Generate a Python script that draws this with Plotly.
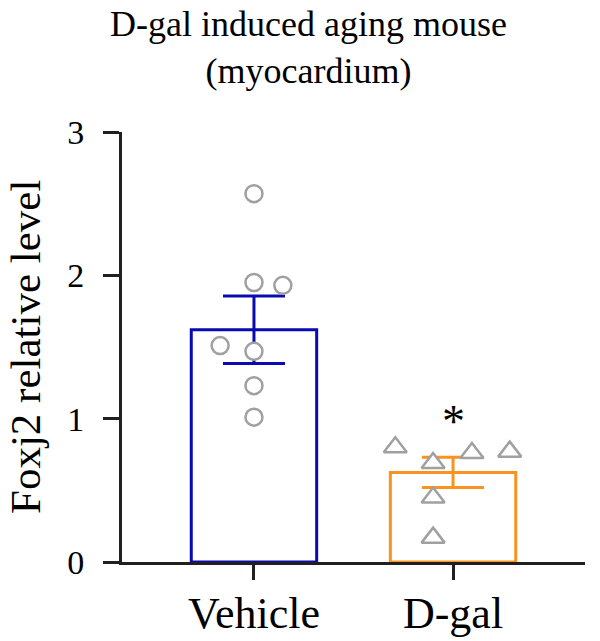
import plotly.graph_objects as go

# ---- data ----
groups = ["Vehicle", "D-gal"]
group_pos = [0, 1]
bar_means = [1.62, 0.625]
bar_sem = [0.235, 0.105]

vehicle_vals = [2.57, 1.95, 1.93, 1.51, 1.47, 1.23, 1.01]
vehicle_jitter = [0.0, 0.0, 0.145, -0.17, 0.0, 0.0, 0.0]
dgal_vals = [0.80, 0.69, 0.76, 0.77, 0.45, 0.17]
dgal_jitter = [-0.29, -0.10, 0.095, 0.285, -0.10, -0.10]

y_ticks = [0, 1, 2, 3]
sig_label = "*"
sig_y = 0.98

FONT = "Liberation Serif"
AX = "#231F20"
BLUE = "#0A0AB2"
ORANGE = "#F7931E"
GRAY = "#A0A0A0"

fig = go.Figure()

for i, (g, m, s, c) in enumerate(zip(groups, bar_means, bar_sem, [BLUE, ORANGE])):
    fig.add_trace(go.Bar(
        x=[group_pos[i]], y=[m], width=0.63,
        marker=dict(color="rgba(255,255,255,0)", line=dict(color=c, width=3)),
        error_y=dict(type="data", array=[s], color=c, thickness=3, width=31, visible=True),
        showlegend=False, hoverinfo="skip",
    ))

fig.add_trace(go.Scatter(
    x=[group_pos[0] + j for j in vehicle_jitter], y=vehicle_vals, mode="markers",
    marker=dict(symbol="circle", size=17, color="white", line=dict(color=GRAY, width=2.5)),
    showlegend=False,
))
fig.add_trace(go.Scatter(
    x=[group_pos[1] + j for j in dgal_jitter], y=dgal_vals, mode="markers",
    marker=dict(symbol="triangle-up", size=20, color="white", line=dict(color=GRAY, width=2.5)),
    showlegend=False,
))

fig.add_annotation(x=group_pos[1], y=sig_y, text=sig_label, showarrow=False,
                   font=dict(family=FONT, size=46, color="black"))

fig.add_annotation(xref="paper", yref="paper", x=(25 - 122) / 463, y=0.5,
                   xanchor="center", yanchor="middle",
                   text="Foxj2 relative level", textangle=-90, showarrow=False,
                   font=dict(family=FONT, size=43, color="black"))

fig.add_annotation(xref="paper", yref="paper", x=(308 - 122) / 463, y=1 + (132 - 2) / 430,
                   xanchor="center", yanchor="top", showarrow=False,
                   text="D-gal induced aging mouse<br>(myocardium)",
                   font=dict(family=FONT, size=36, color="black"))

fig.update_layout(
    width=600, height=641,
    margin=dict(l=122, r=15, t=132, b=79),
    plot_bgcolor="white", paper_bgcolor="white",
    barmode="overlay",
    xaxis=dict(range=[-0.663, 1.663], tickvals=group_pos, ticktext=groups, automargin=False,
               ticklabelstandoff=-5,
               showline=True, linecolor=AX, linewidth=3, ticks="outside", ticklen=15,
               tickwidth=3, tickcolor=AX, showgrid=False, zeroline=False,
               tickfont=dict(family=FONT, size=44, color="black")),
    yaxis=dict(range=[0, 3], tickvals=y_ticks, showline=True, linecolor=AX, linewidth=3,
               automargin=False, ticklabelstandoff=12,
               ticks="outside", ticklen=16, tickwidth=3, tickcolor=AX, showgrid=False,
               zeroline=False, tickfont=dict(family=FONT, size=34, color="black")),
)

fig.write_html("out.html")
